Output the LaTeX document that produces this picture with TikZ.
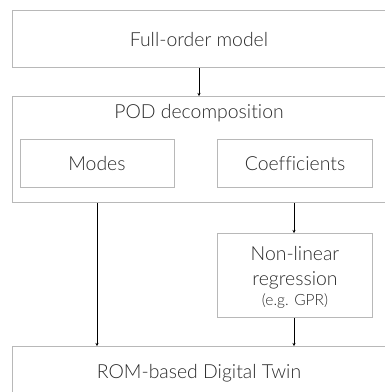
\documentclass[tikz,border=0pt]{standalone}
\usepackage{fontspec}
\usetikzlibrary{arrows.meta}
\setmainfont{Lato}[UprightFont=* Light,Ligatures=NoCommon]
\definecolor{boxline}{HTML}{B8B8B8}
\definecolor{txt}{HTML}{2A2A2A}
\begin{document}
\begin{tikzpicture}[x=1pt,y=-1pt,
  frame/.style={draw=boxline,line width=1pt},
  lbl/.style={text=txt,font=\fontsize{19.4}{22}\selectfont,inner sep=0pt,anchor=base},
  small/.style={text=txt,font=\fontsize{15.5}{17}\selectfont,inner sep=0pt,anchor=base},
  conn/.style={draw=black,line width=0.7pt,-{Stealth[length=3pt,width=3pt]}}]
\useasboundingbox (0,0) rectangle (385,392);
\clip (0,0) rectangle (385,392);
% boxes
\node[frame,minimum width=376pt,minimum height=57pt,anchor=north west,inner sep=0pt] (full) at (12,10) {};
\node[lbl] at (199,46) {Full-order model};
\node[frame,minimum width=376pt,minimum height=106pt,anchor=north west,inner sep=0pt] (pod) at (12,96) {};
\node[lbl] at (199,118) {POD decomposition};
\node[frame,minimum width=154pt,minimum height=48pt,anchor=north west,inner sep=0pt] (modes) at (20,139) {};
\node[lbl] at (97,170) {Modes};
\node[frame,minimum width=155pt,minimum height=48pt,anchor=north west,inner sep=0pt] (coef) at (217,139) {};
\node[lbl] at (295,170) {Coefficients};
\node[frame,minimum width=155pt,minimum height=84pt,anchor=north west,inner sep=0pt] (reg) at (217,233) {};
\node[lbl] at (295,260) {Non-linear};
\node[lbl] at (295,285) {regression};
\node[small] at (295,305) {(e.g. GPR)};
\node[frame,minimum width=376pt,minimum height=80pt,anchor=north west,inner sep=0pt] (rom) at (12,346) {};
\node[lbl] at (199,378) {ROM-based Digital Twin};
% connectors
\coordinate (a1) at (199,67);
\draw[conn] (full.south -| a1) -- (pod.north -| a1);
\coordinate (m) at (97,0);
\draw[conn] (pod.south -| m) -- (rom.north -| m);
\coordinate (c) at (294,0);
\draw[conn] (pod.south -| c) -- (reg.north -| c);
\draw[conn] (reg.south -| c) -- (rom.north -| c);
\end{tikzpicture}
\end{document}
